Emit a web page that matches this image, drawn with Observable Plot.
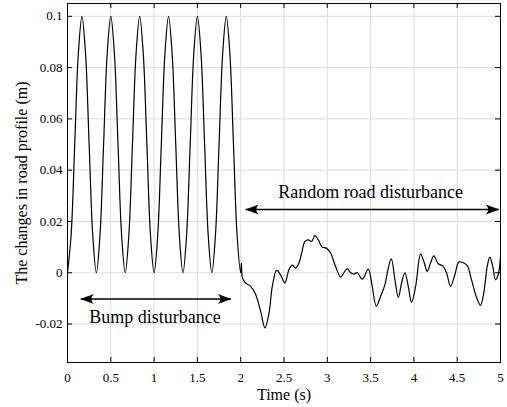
<!DOCTYPE html>
<html><head><meta charset="utf-8">
<script src="https://cdn.jsdelivr.net/npm/d3@7"></script>
<script src="https://cdn.jsdelivr.net/npm/@observablehq/plot@0.6"></script>
<style>body{margin:0;background:#fff} #chart svg{display:block}</style>
</head><body><div id="chart"></div>
<script>
// Bump disturbance (8 samples per bump)
const bumpTime = [0, 0.0417, 0.0833, 0.125, 0.1667, 0.2083, 0.25, 0.2917, 0.3333, 0.375, 0.4167, 0.4583, 0.5, 0.5417, 0.5833, 0.625, 0.6667, 0.7083, 0.75, 0.7917, 0.8333, 0.875, 0.9167, 0.9583, 1.0, 1.0417, 1.0833, 1.125, 1.1667, 1.2083, 1.25, 1.2917, 1.3333, 1.375, 1.4167, 1.4583, 1.5, 1.5417, 1.5833, 1.625, 1.6667, 1.7083, 1.75, 1.7917, 1.8333, 1.875, 1.9167, 1.9583, 2.0];
const bumpValue = [0, 0.0146, 0.05, 0.0854, 0.1, 0.0854, 0.05, 0.0146,
                   0, 0.0146, 0.05, 0.0854, 0.1, 0.0854, 0.05, 0.0146,
                   0, 0.0146, 0.05, 0.0854, 0.1, 0.0854, 0.05, 0.0146,
                   0, 0.0146, 0.05, 0.0854, 0.1, 0.0854, 0.05, 0.0146,
                   0, 0.0146, 0.05, 0.0854, 0.1, 0.0854, 0.05, 0.0146,
                   0, 0.0146, 0.05, 0.0854, 0.1, 0.0854, 0.05, 0.0146, 0];
// Random road disturbance
const randomTime = [2.008, 2.02, 2.057, 2.115, 2.173, 2.23, 2.28, 2.327, 2.365, 2.415, 2.46, 2.51, 2.557, 2.596, 2.634, 2.673, 2.704, 2.742, 2.78, 2.819, 2.857, 2.896, 2.942, 2.989, 3.038, 3.096, 3.154, 3.19, 3.23, 3.27, 3.307, 3.346, 3.404, 3.473, 3.512, 3.566, 3.615, 3.665, 3.7, 3.739, 3.781, 3.82, 3.858, 3.896, 3.935, 3.973, 4.02, 4.077, 4.115, 4.154, 4.192, 4.23, 4.281, 4.334, 4.377, 4.423, 4.473, 4.519, 4.565, 4.616, 4.665, 4.72, 4.769, 4.807, 4.846, 4.877, 4.911, 4.942, 4.973, 5.0];
const randomValue = [0.0038, -0.002, -0.004, -0.0053, -0.0085, -0.015, -0.0215, -0.0157, -0.0053, 0.0009, -0.0008, -0.004, 0.0012, 0.003, 0.0018, 0.0038, 0.0077, 0.0122, 0.0128, 0.0122, 0.0145, 0.0128, 0.01, 0.0096, 0.0077, 0.0024, -0.0017, -0.0001, 0.0016, 0, -0.0005, 0, -0.0025, 0.0014, -0.004, -0.013, -0.0092, -0.0047, 0.0012, 0.0054, -0.0027, -0.0096, -0.004, 0, -0.0053, -0.0115, -0.0053, 0.0073, 0.0044, 0.0005, 0.0038, 0.0066, 0.0035, 0.0027, 0, -0.0053, -0.0008, 0.0042, 0.004, 0.0028, -0.0027, -0.0092, -0.0127, -0.0079, 0.0024, 0.0061, 0.0024, -0.0027, -0.0008, 0.0063];

const xTicks = [0, 0.5, 1, 1.5, 2, 2.5, 3, 3.5, 4, 4.5, 5];
const xTickLabels = ["0", "0.5", "1", "1.5", "2", "2.5", "3", "3.5", "4", "4.5", "5"];
const yTicks = [-0.02, 0, 0.02, 0.04, 0.06, 0.08, 0.1];
const yTickLabels = ["-0.02", "0", "0.02", "0.04", "0.06", "0.08", "0.1"];
const xLabel = "Time (s)";
const yLabel = "The changes in road profile (m)";

// Annotations
const arrowX1 = [0.154, 2.058];
const arrowX2 = [1.886, 4.98];
const arrowY = [-0.0102, 0.0247];
const annotText = ["Bump disturbance", "Random road disturbance"];
const annotX = [1.01, 3.5];
const annotY = [-0.0173, 0.0313];

const series = [
  ...bumpTime.map((t, i) => ({t, v: bumpValue[i]})),
  ...randomTime.map((t, i) => ({t, v: randomValue[i]}))
];
const arrows = arrowX1.map((x1, i) => ({x1, x2: arrowX2[i], y: arrowY[i]}));
const notes = annotText.map((s, i) => ({s, x: annotX[i], y: annotY[i]}));

const W = 507, H = 407, mL = 67, mR = 7, mT = 3, mB = 45;
const pw = W - mL - mR, ph = H - mT - mB;

function stealth(color) {
  const m = d3.create("svg:marker")
    .attr("viewBox", "-14 -6 15 12")
    .attr("markerWidth", 15).attr("markerHeight", 12)
    .attr("markerUnits", "userSpaceOnUse")
    .attr("orient", "auto-start-reverse")
    .attr("refX", 0).attr("refY", 0);
  m.append("path").attr("fill", color).attr("stroke", "none")
    .attr("d", "M0.5,0 L-13,-5 Q-8,0 -13,5 Z");
  return m.node();
}

const tk = d => xTickLabels[xTicks.indexOf(d)];
const tky = d => yTickLabels[yTicks.indexOf(d)];

const chart = Plot.plot({
  width: W, height: H,
  marginLeft: mL, marginRight: mR, marginTop: mT, marginBottom: mB,
  style: {fontFamily: "Liberation Serif", fontSize: "13px", color: "black", background: "white"},
  x: {domain: [0, 5]},
  y: {domain: [-0.035, 0.105]},
  marks: [
    Plot.gridX(xTicks, {stroke: "#dcdcdc", strokeOpacity: 1}),
    Plot.gridY(yTicks, {stroke: "#dcdcdc", strokeOpacity: 1}),
    Plot.axisX(xTicks, {tickSize: 0, tickPadding: 10, tickFormat: tk, fontSize: 13, label: null}),
    Plot.axisY(yTicks, {tickSize: 0, tickPadding: 5, tickFormat: tky, fontSize: 13, label: null}),
    Plot.text([xLabel], {text: d => d, frameAnchor: "bottom", lineAnchor: "middle", textAnchor: "middle", dy: 32, fontSize: 16, fill: "black"}),
    Plot.text([yLabel], {text: d => d, frameAnchor: "left", lineAnchor: "middle", textAnchor: "middle", dx: -46, rotate: -90, fontSize: 16, fill: "black"}),
    Plot.tickX(xTicks, {x: d => d, stroke: "black", insetTop: ph - 5}),
    Plot.tickX(xTicks, {x: d => d, stroke: "black", insetBottom: ph - 5}),
    Plot.tickY(yTicks, {y: d => d, stroke: "black", insetRight: pw - 5}),
    Plot.tickY(yTicks, {y: d => d, stroke: "black", insetLeft: pw - 5}),
    Plot.line(series, {x: "t", y: "v", stroke: "black", strokeWidth: 1.2, curve: "catmull-rom"}),
    Plot.link(arrows, {x1: "x1", x2: "x2", y1: "y", y2: "y", stroke: "black", strokeWidth: 1.5,
      markerStart: stealth, markerEnd: stealth}),
    Plot.text(notes, {x: "x", y: "y", text: "s", fontSize: 18, fill: "black"}),
    Plot.frame({stroke: "black", strokeWidth: 1})
  ]
});
document.getElementById("chart").append(chart);
</script>
</body></html>
